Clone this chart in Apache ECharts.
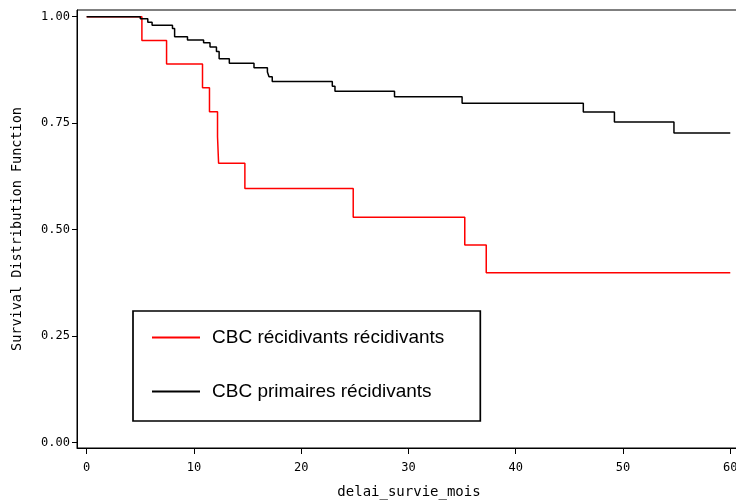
<!DOCTYPE html>
<html>
<head>
<meta charset="utf-8">
<script src="https://cdn.jsdelivr.net/npm/echarts@6/dist/echarts.min.js"></script>
<style>
  html, body { margin: 0; padding: 0; background: #fff; }
  #chart { width: 736px; height: 502px; }
</style>
</head>
<body>
<div id="chart"></div>
<script>
// Kaplan-Meier steps (months, survival)
const redName = 'CBC récidivants récidivants'
const redTimes = [0, 5.15, 7.45, 10.8, 11.45, 12.2, 12.3, 14.75, 24.85, 35.25, 37.25, 60]
const redSurv  = [1, 0.944, 0.889, 0.833, 0.777, 0.718, 0.656, 0.597, 0.529, 0.464, 0.399, 0.399]

const blackName = 'CBC primaires récidivants'
const blackTimes = [0, 5.0, 5.7, 6.1, 8.0, 8.2, 9.4, 10.9, 11.5, 12.1, 12.35, 13.3, 15.6, 16.85, 17.0, 17.3,
                    22.9, 23.15, 28.7, 35.0, 46.3, 49.2, 54.75, 60]
const blackSurv  = [1, 0.995, 0.987, 0.98, 0.972, 0.953, 0.945, 0.939, 0.929, 0.918, 0.901, 0.891, 0.88, 0.87, 0.859, 0.848,
                    0.837, 0.825, 0.812, 0.797, 0.776, 0.753, 0.727, 0.727]

const xTicks = [0, 10, 20, 30, 40, 50, 60]
const yTicks = [0, 0.25, 0.5, 0.75, 1]

const toPairs = (ts, vs) => ts.map((t, i) => [t, vs[i]])

const chart = echarts.init(document.getElementById('chart'))

const monoFont = 'DejaVu Sans Mono'

const option = {
  animation: false,
  grid: {
    show: true,
    left: 77,
    top: 10,
    width: 664,
    height: 438,
    borderColor: '#000',
    borderWidth: 1,
    containLabel: false,
    outerBoundsMode: 'none'
  },
  legend: {
    orient: 'vertical',
    left: 133,
    top: 311,
    data: [redName, blackName],
    icon: 'rect',
    itemWidth: 48,
    itemHeight: 2,
    itemGap: 35,
    padding: [17, 36, 20, 19],
    borderColor: '#000',
    borderWidth: 1.7,
    backgroundColor: '#fff',
    textStyle: {
      fontFamily: 'Liberation Sans',
      fontSize: 19,
      color: '#000',
      padding: [0, 0, 0, 7]
    }
  },
  xAxis: {
    type: 'value',
    min: -0.9,
    max: 61,
    name: 'delai_survie_mois',
    nameLocation: 'middle',
    nameGap: 37,
    nameTextStyle: { fontFamily: monoFont, fontSize: 14, color: '#000' },
    splitLine: { show: false },
    axisLine: { show: true, onZero: false, lineStyle: { color: '#000', width: 1 } },
    axisTick: { show: true, length: 6, customValues: xTicks, lineStyle: { color: '#000' } },
    axisLabel: {
      customValues: xTicks,
      margin: 14,
      fontFamily: monoFont,
      fontSize: 12,
      color: '#000'
    }
  },
  yAxis: {
    type: 'value',
    min: -0.0124,
    max: 1.0157,
    name: 'Survival Distribution Function',
    nameLocation: 'middle',
    nameGap: 53,
    nameTextStyle: { fontFamily: monoFont, fontSize: 13.5, color: '#000' },
    splitLine: { show: false },
    axisLine: { show: true, onZero: false, lineStyle: { color: '#000', width: 1 } },
    axisTick: { show: true, length: 5, customValues: yTicks, lineStyle: { color: '#000' } },
    axisLabel: {
      customValues: yTicks,
      margin: 7,
      fontFamily: monoFont,
      fontSize: 12,
      color: '#000',
      formatter: v => v.toFixed(2)
    }
  },
  series: [{
    name: redName,
    type: 'line',
    step: 'end',
    showSymbol: false,
    lineStyle: { color: '#ff0000', width: 1.5 },
    itemStyle: { color: '#ff0000' },
    data: toPairs(redTimes, redSurv)
  }, {
    name: blackName,
    type: 'line',
    step: 'end',
    showSymbol: false,
    lineStyle: { color: '#000', width: 1.5 },
    itemStyle: { color: '#000' },
    data: toPairs(blackTimes, blackSurv)
  }]
}

chart.setOption(option)
</script>
</body>
</html>
